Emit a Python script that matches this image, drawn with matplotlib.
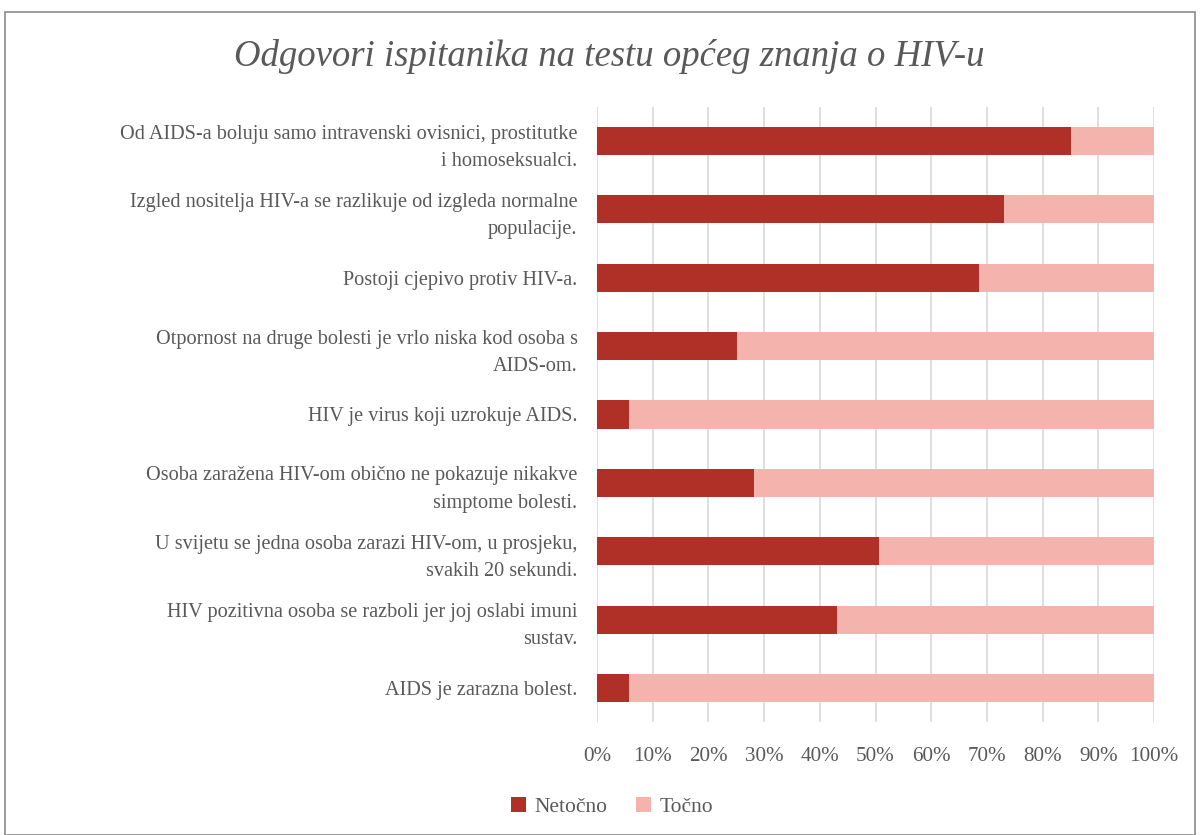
import matplotlib.pyplot as plt
from matplotlib.patches import Rectangle

plt.rcParams['font.family'] = ['Liberation Serif', 'DejaVu Serif']

# odgovori, od vrha prema dnu
pitanja = [
    'Od AIDS-a boluju samo intravenski ovisnici, prostitutke\ni homoseksualci.',
    'Izgled nositelja HIV-a se razlikuje od izgleda normalne\npopulacije.',
    'Postoji cjepivo protiv HIV-a.',
    'Otpornost na druge bolesti je vrlo niska kod osoba s\nAIDS-om.',
    'HIV je virus koji uzrokuje AIDS.',
    'Osoba zaražena HIV-om obično ne pokazuje nikakve\nsimptome bolesti.',
    'U svijetu se jedna osoba zarazi HIV-om, u prosjeku,\nsvakih 20 sekundi.',
    'HIV pozitivna osoba se razboli jer joj oslabi imuni\nsustav.',
    'AIDS je zarazna bolest.',
]
netocno = [85.1, 73.1, 68.6, 25.1, 5.7, 28.2, 50.6, 43.1, 5.7]
tocno = [100 - v for v in netocno]

c_net = '#B03027'
c_toc = '#F5B3AE'
txt = '#595959'

fig = plt.figure(figsize=(12, 8.35), dpi=100)
fig.patches.append(Rectangle((0.004, 0.0), 0.992, 0.986, transform=fig.transFigure,
                             fill=False, edgecolor='#8c8c8c', linewidth=1.2))

ax = fig.add_axes([0.4975, 0.1353, 0.4642, 0.7366])
ypos = list(range(len(pitanja)))
ax.barh(ypos, netocno, height=0.41, color=c_net, label='Netočno', zorder=3)
ax.barh(ypos, tocno, left=netocno, height=0.41, color=c_toc, label='Točno', zorder=3)

ax.set_ylim(len(pitanja) - 0.5, -0.5)
ax.set_xlim(0, 100)
ax.set_yticks(ypos)
ax.set_yticklabels(pitanja, fontsize=14.6, color=txt, ha='right', linespacing=1.6)
ax.set_xticks(range(0, 101, 10))
ax.set_xticklabels([f'{v}%' for v in range(0, 101, 10)], fontsize=15.2, color=txt)
ax.tick_params(axis='y', length=0, pad=14)
ax.tick_params(axis='x', length=0, pad=18)
ax.grid(axis='x', color='#d9d9d9', linewidth=1.2, zorder=0)
for s in ax.spines.values():
    s.set_visible(False)

fig.text(0.508, 0.932, 'Odgovori ispitanika na testu općeg znanja o HIV-u',
         ha='center', va='center', fontsize=26.5, style='italic', color=txt)

fig.legend(loc='center', bbox_to_anchor=(0.51, 0.034), ncol=2, frameon=False,
           fontsize=15.5, labelcolor=txt, handlelength=0.7, handleheight=0.7,
           columnspacing=1.3, handletextpad=0.4)

fig.savefig('out.png', dpi=100)
